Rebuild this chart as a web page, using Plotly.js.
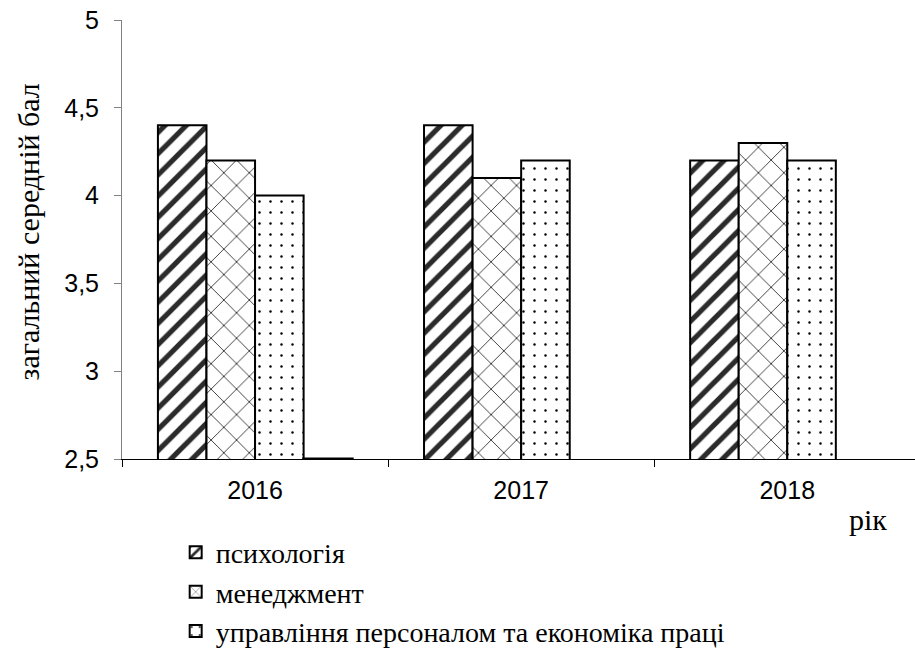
<!DOCTYPE html>
<html>
<head>
<meta charset="utf-8">
<script src="https://cdn.plot.ly/plotly-3.0.1.min.js"></script>
<style>html,body{margin:0;padding:0;background:#fff}</style>
</head>
<body>
<div id="chart" style="width:915px;height:662px"></div>
<script>
var years = ['2016', '2017', '2018'];
var psychology = [4.4, 4.4, 4.2];
var management = [4.2, 4.1, 4.3];
var personnel = [4.0, 4.2, 4.2];
var extra = [2.5, null, null];
var seriesNames = ['психологія', 'менеджмент', 'управління персоналом та економіка праці'];
var yTicks = [2.5, 3, 3.5, 4, 4.5, 5];
var yTickLabels = ['2,5', '3', '3,5', '4', '4,5', '5'];
var yTitle = 'загальний середній бал';
var xTitle = 'рік';

var serif = 'Liberation Serif';
var sans = 'Liberation Sans';
var line = {color: '#000', width: 2};
var traces = [
  {type: 'bar', x: years, y: psychology, name: seriesNames[0],
   marker: {color: '#fff', line: line,
     pattern: {shape: '/', fgcolor: '#2b2b2b', bgcolor: '#fff', size: 15, solidity: 0.35, fillmode: 'replace'}}},
  {type: 'bar', x: years, y: management, name: seriesNames[1],
   marker: {color: '#fff', line: line,
     pattern: {shape: 'x', fgcolor: '#000', bgcolor: '#fff', size: 18, solidity: 0.08, fillmode: 'replace'}}},
  {type: 'bar', x: years, y: personnel, name: seriesNames[2],
   marker: {color: '#fff', line: line,
     pattern: {shape: '.', fgcolor: '#000', bgcolor: '#fff', size: 11, solidity: 0.04, fillmode: 'replace'}}},
  {type: 'bar', x: years, y: extra, name: '', showlegend: false,
   marker: {color: '#fff', line: {color: '#000', width: 3}}}
];

var layout = {
  width: 915, height: 662,
  margin: {l: 122, r: 0, t: 20, b: 203, autoexpand: false},
  paper_bgcolor: '#fff', plot_bgcolor: '#fff',
  barmode: 'group', bargap: 0.27, bargroupgap: 0,
  showlegend: true,
  hovermode: false,
  font: {family: sans, color: '#000'},
  xaxis: {
    type: 'category', range: [-0.5, 2.48],
    showline: true, linecolor: '#000', linewidth: 1,
    ticks: 'outside', tickson: 'boundaries', ticklen: 7, tickcolor: '#000', tickwidth: 1,
    showgrid: false, zeroline: false,
    tickfont: {family: sans, size: 25, color: '#000'},
    ticklabelstandoff: 9
  },
  yaxis: {
    range: [2.5, 5], tickvals: yTicks, ticktext: yTickLabels,
    showline: true, linecolor: '#808080', linewidth: 1,
    ticks: 'outside', ticklen: 7, tickcolor: '#808080',
    showgrid: false, zeroline: false,
    tickfont: {family: sans, size: 25, color: '#000'},
    ticklabelstandoff: 10
  },
  legend: {
    xref: 'container', yref: 'container', x: 0.192, y: 0.203, xanchor: 'left', yanchor: 'top',
    orientation: 'v', traceorder: 'normal',
    font: {family: serif, size: 28, color: '#000'},
    itemwidth: 30, bgcolor: 'rgba(0,0,0,0)'
  },
  annotations: [{
    text: xTitle, xref: 'paper', yref: 'paper', x: 0.941, y: -0.137, xanchor: 'center', yanchor: 'middle',
    showarrow: false, font: {family: serif, size: 30, color: '#000'}
  }, {
    text: yTitle, xref: 'paper', yref: 'paper', x: -0.118, y: 0.517, xanchor: 'center', yanchor: 'middle',
    textangle: -90, showarrow: false, font: {family: serif, size: 30, color: '#000'}
  }]
};

Plotly.newPlot('chart', traces, layout, {displayModeBar: false, staticPlot: true});
</script>
</body>
</html>
